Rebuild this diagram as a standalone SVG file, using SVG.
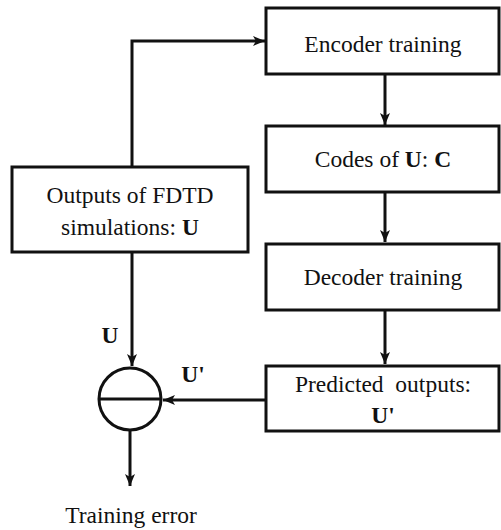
<svg xmlns="http://www.w3.org/2000/svg" width="501" height="530" viewBox="0 0 501 530">
<defs>
<marker id="ah" viewBox="0 0 12 10" refX="12" refY="5" markerWidth="12" markerHeight="10" markerUnits="userSpaceOnUse" orient="auto">
<path d="M0,0 L12,5 L0,10 L3,5 Z" fill="#111"/>
</marker>
</defs>
<style>
.box{fill:#fff;stroke:#111;stroke-width:3}
.ln{fill:none;stroke:#111;stroke-width:3}
text{font-family:'Liberation Serif',Tinos,'Times New Roman',serif;font-size:23.5px;fill:#111;text-anchor:middle}
.b{font-weight:bold}
</style>
<rect width="501" height="530" fill="#fff"/>
<g id="connectors">
<path class="ln" d="M132,167 V41 H265" marker-end="url(#ah)"/>
<path class="ln" d="M385,74 V125" marker-end="url(#ah)"/>
<path class="ln" d="M385,192 V242" marker-end="url(#ah)"/>
<path class="ln" d="M385,310 V364" marker-end="url(#ah)"/>
<path class="ln" d="M132,252 V366" marker-end="url(#ah)"/>
<path class="ln" d="M266,400 H163" marker-end="url(#ah)"/>
<path class="ln" d="M130,430 V486" marker-end="url(#ah)"/>
<text class="b" x="110" y="343">U</text>
<text class="b" x="193" y="382">U'</text>
</g>
<g id="encoder">
<rect class="box" x="266" y="8" width="233" height="66"/>
<text x="383" y="52">Encoder training</text>
</g>
<g id="codes">
<rect class="box" x="266" y="126" width="233" height="66"/>
<text x="383" y="167">Codes of <tspan class="b">U</tspan>: <tspan class="b">C</tspan></text>
</g>
<g id="decoder">
<rect class="box" x="266" y="244" width="233" height="66"/>
<text x="383" y="285">Decoder training</text>
</g>
<g id="predicted">
<rect class="box" x="266" y="366" width="233" height="65"/>
<text x="383" y="392" xml:space="preserve">Predicted  outputs:</text>
<text class="b" x="383" y="423">U'</text>
</g>
<g id="outputs">
<rect class="box" x="12" y="167" width="236" height="85"/>
<text x="130" y="203">Outputs of FDTD</text>
<text x="130" y="235">simulations: <tspan class="b">U</tspan></text>
</g>
<g id="subtract">
<circle class="ln" cx="130" cy="399" r="31"/>
<line class="ln" x1="99" y1="399" x2="161" y2="399"/>
</g>
<g id="error">
<text x="131" y="523">Training error</text>
</g>
</svg>
